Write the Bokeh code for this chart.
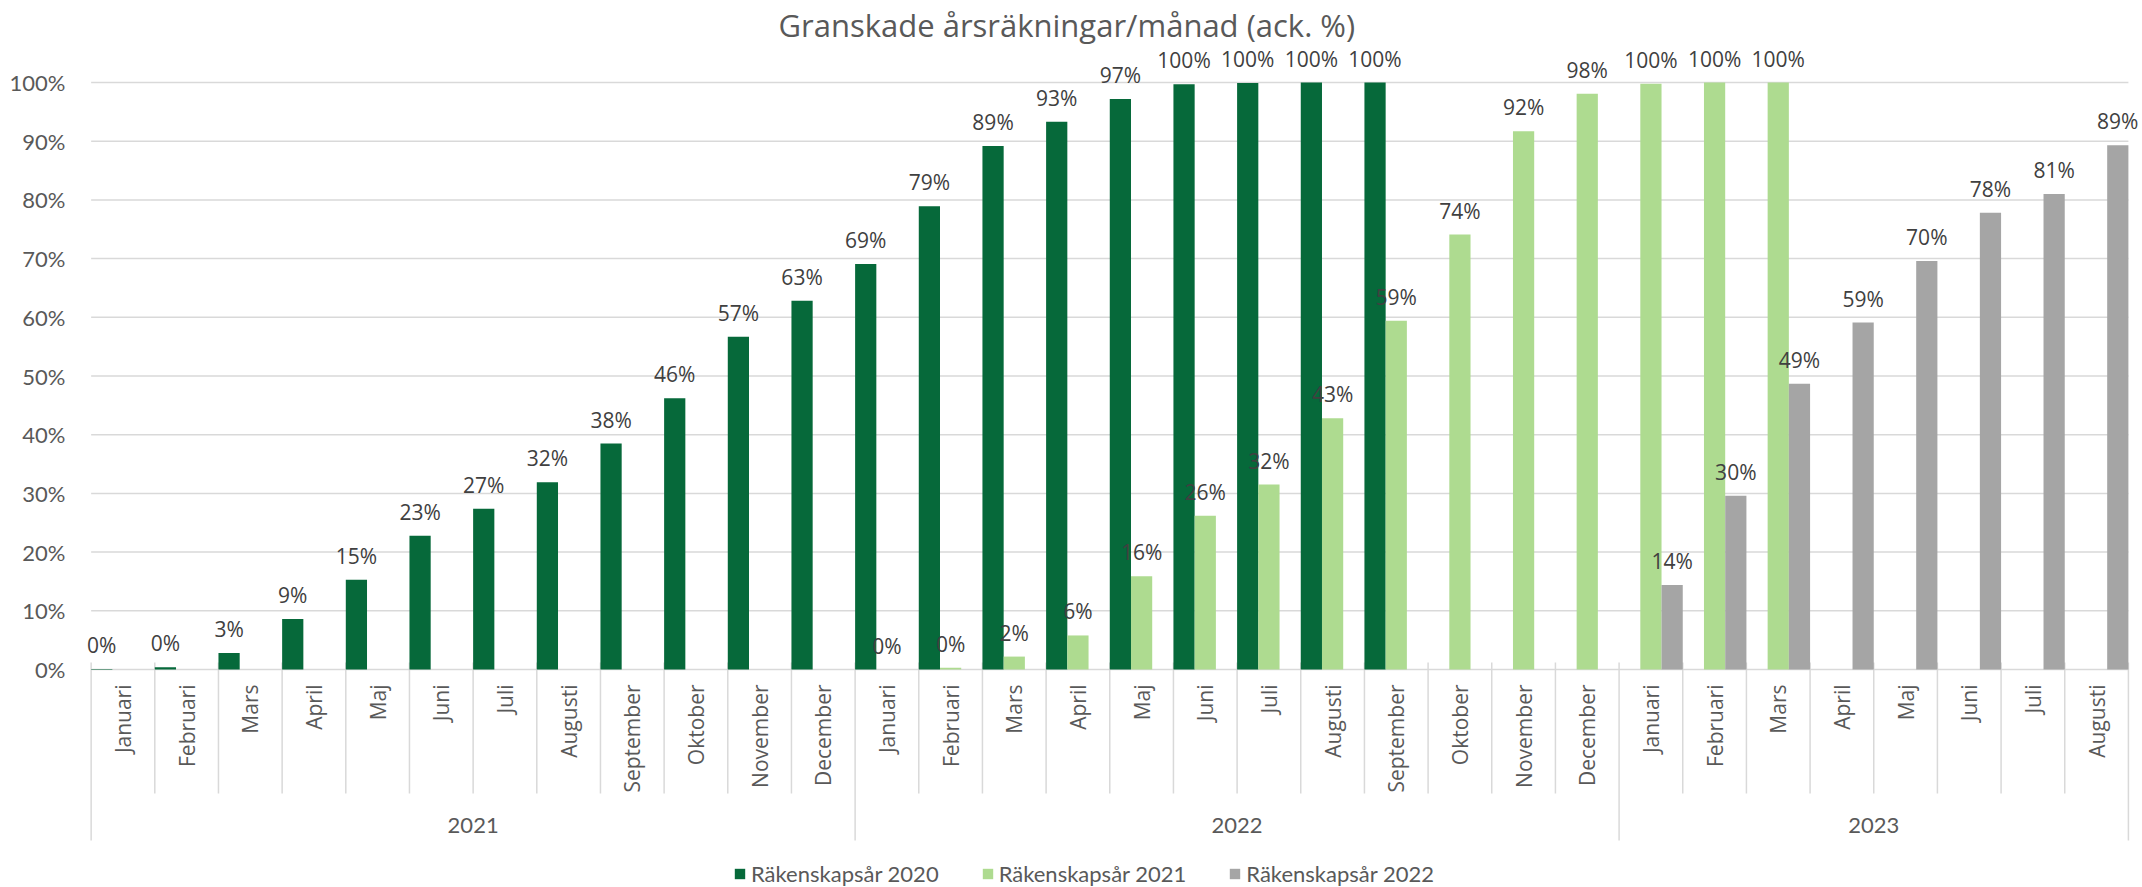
import math
from bokeh.plotting import figure
from bokeh.models import FixedTicker, PrintfTickFormatter, Legend, LegendItem
from bokeh.core.properties import value
from bokeh.embed import file_html
from bokeh.resources import INLINE

# ---------------- data ----------------
years = ["2021", "2022", "2023"]
months_per_year = [12, 12, 8]
month_names = ["Januari", "Februari", "Mars", "April", "Maj", "Juni", "Juli",
               "Augusti", "September", "Oktober", "November", "December"]
series_names = ["Räkenskapsår 2020", "Räkenskapsår 2021", "Räkenskapsår 2022"]
series_colors = ["#06693A", "#AEDB90", "#A5A5A5"]

# cumulative share (%) per month, Jan 2021 .. Aug 2023 (None = no value)
rak_2020 = [0.1, 0.4, 2.8, 8.6, 15.3, 22.8, 27.4, 31.9, 38.5, 46.2, 56.7, 62.8,
            69.1, 78.9, 89.2, 93.3, 97.2, 99.7, 99.9, 100.0, 100.0,
            None, None, None, None, None, None, None, None, None, None, None]
rak_2021 = [None, None, None, None, None, None, None, None, None, None, None, None,
            0.0, 0.3, 2.2, 5.8, 15.9, 26.2, 31.5, 42.8, 59.4, 74.1, 91.7, 98.1,
            99.8, 100.0, 100.0, None, None, None, None, None]
rak_2022 = [None] * 24 + [14.4, 29.6, 48.7, 59.1, 69.6, 77.8, 81.0, 89.3]
series_values = [rak_2020, rak_2021, rak_2022]
y_ticks = [0, 10, 20, 30, 40, 50, 60, 70, 80, 90, 100]

month_labels = []
for y, m in zip(years, months_per_year):
    month_labels += month_names[:m]
n = len(month_labels)

# ---------------- layout constants ----------------
FIG_W, FIG_H = 2142, 887
PX_PER_PCT = 5.87
TOP = 45
ZERO_Y = 669
y_end = (ZERO_Y - TOP) / PX_PER_PCT
y_start = (ZERO_Y - FIG_H) / PX_PER_PCT

p = figure(width=FIG_W, height=FIG_H, output_backend="svg", toolbar_location=None,
           x_range=(-0.12, n + 0.19), y_range=(y_start, y_end), x_axis_location=None,
           min_border_left=83, min_border_right=2, min_border_top=TOP, min_border_bottom=0,
           tools="")
p.outline_line_color = None
p.background_fill_color = "white"
p.border_fill_color = "white"

p.title.text = "Granskade årsräkningar/månad (ack. %)"
p.title.align = "left"
p.title.offset = 695
p.title.text_font = "Open Sans"
p.title.text_font_size = "31px"
p.title.text_font_style = "normal"
p.title.text_color = "#595959"
p.title.standoff = 0

ticker = FixedTicker(ticks=y_ticks)
p.yaxis.ticker = ticker
p.yaxis.formatter = PrintfTickFormatter(format="%d%%")
p.yaxis.axis_line_color = None
p.yaxis.major_tick_line_color = None
p.yaxis.minor_tick_line_color = None
p.yaxis.major_label_standoff = 12
p.yaxis.major_label_text_font = "Lato"
p.yaxis.major_label_text_font_size = "22px"
p.yaxis.major_label_text_color = "#595959"
p.xgrid.visible = False
p.ygrid.visible = False

# horizontal gridlines spanning the categories
p.segment(x0=[0] * len(y_ticks), y0=y_ticks, x1=[n] * len(y_ticks), y1=y_ticks,
          line_color="#D9D9D9", line_width=1.5)

# category separators (month band and year band)
sep_top = 7 / PX_PER_PCT
month_bottom = -(793 - ZERO_Y) / PX_PER_PCT
year_bottom = -(840 - ZERO_Y) / PX_PER_PCT
year_bounds = [0]
for m in months_per_year:
    year_bounds.append(year_bounds[-1] + m)
bx, by0, by1 = [], [], []
for b in range(n + 1):
    bx.append(b)
    by0.append(sep_top)
    by1.append(year_bottom if b in year_bounds else month_bottom)
p.segment(x0=bx, y0=by0, x1=bx, y1=by1, line_color="#D9D9D9", line_width=1.5)

# bars
renderers = []
lab_x, lab_y, lab_t = [], [], []
for k, (vals, col) in enumerate(zip(series_values, series_colors)):
    xs, tops = [], []
    for i, v in enumerate(vals):
        if v is None:
            continue
        xs.append(i + (k + 0.5) / 3)
        tops.append(v)
        lab_x.append(i + (k + 0.5) / 3)
        lab_y.append(v)
        lab_t.append(f"{round(v)}%")
    r = p.vbar(x=xs, top=tops, bottom=0, width=1 / 3, fill_color=col, line_color=None)
    renderers.append(r)

# data labels
p.text(x=lab_x, y=lab_y, text=lab_t, text_align="center", text_baseline="alphabetic",
       y_offset=-24, text_font=value("Open Sans"), text_font_size="21px", text_color="#404040")

# month labels (rotated)
p.text(x=[i + 0.5 for i in range(n)], y=[-15 / PX_PER_PCT] * n, text=month_labels,
       angle=math.pi / 2, text_align="right", text_baseline="middle",
       text_font=value("Open Sans"), text_font_size="21px", text_color="#595959")

# year labels
yc = [(year_bounds[j] + year_bounds[j + 1]) / 2 for j in range(len(years))]
p.text(x=yc, y=[-(825 - ZERO_Y) / PX_PER_PCT] * len(years), text=years,
       text_align="center", text_baseline="middle",
       text_font=value("Lato"), text_font_size="22px", text_color="#595959")

legend = Legend(items=[LegendItem(label=s, renderers=[r]) for s, r in zip(series_names, renderers)],
                orientation="horizontal", location=(650, 0), padding=0, margin=0,
                spacing=42, label_standoff=5, label_width=186, label_height=22,
                glyph_width=13, glyph_height=13,
                label_text_font="Lato", label_text_font_size="22px", label_text_color="#595959",
                border_line_color=None, background_fill_alpha=0)
p.add_layout(legend, "center")

open("out.html", "w").write(file_html(p, INLINE))
